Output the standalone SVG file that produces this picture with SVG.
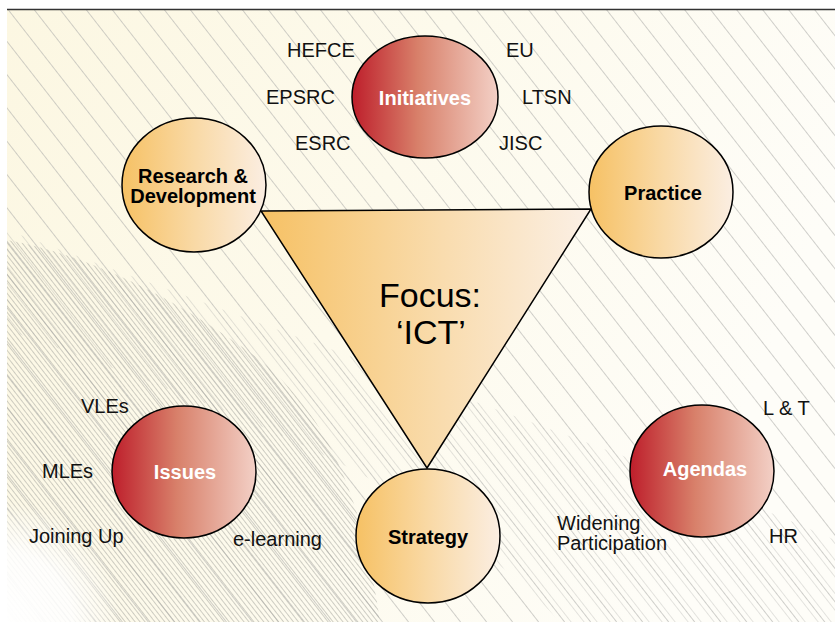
<svg xmlns="http://www.w3.org/2000/svg" width="835" height="622" viewBox="0 0 835 622">
  <defs>
    <style>
      .node { stroke: #000; stroke-width: 1.5; }
      .lbl { font-family: "Liberation Sans", Arial, sans-serif; font-weight: bold; font-size: 20px; text-anchor: middle; }
      .lbl-w { fill: #fff; }
      .lbl-k { fill: #000; }
      .sat { font-family: "Liberation Sans", Arial, sans-serif; font-size: 20px; fill: #111; }
      .focus { font-family: "Liberation Sans", Arial, sans-serif; font-size: 34px; fill: #000; text-anchor: middle; }
    </style>
    <linearGradient id="gOrange" x1="0" y1="0" x2="1" y2="0">
      <stop offset="0" stop-color="#f6c164"/>
      <stop offset="0.5" stop-color="#f9d9a5"/>
      <stop offset="1" stop-color="#fbeee2"/>
    </linearGradient>
    <linearGradient id="gRed" x1="0" y1="0" x2="1" y2="0">
      <stop offset="0" stop-color="#be1e2b"/>
      <stop offset="0.45" stop-color="#d8806a"/>
      <stop offset="1" stop-color="#f3d0c6"/>
    </linearGradient>
    <linearGradient id="gTri" x1="261" y1="0" x2="591" y2="0" gradientUnits="userSpaceOnUse">
      <stop offset="0" stop-color="#f6c164"/>
      <stop offset="0.55" stop-color="#f9dcae"/>
      <stop offset="1" stop-color="#fbf0e6"/>
    </linearGradient>
    <linearGradient id="gBg" x1="0" y1="0" x2="1" y2="0.3">
      <stop offset="0" stop-color="#fcf7e2"/>
      <stop offset="0.5" stop-color="#fdfaec"/>
      <stop offset="1" stop-color="#fefdf8"/>
    </linearGradient>
    <radialGradient id="gCorner" cx="0" cy="622" r="120" gradientUnits="userSpaceOnUse">
      <stop offset="0" stop-color="#ffffff" stop-opacity="1"/>
      <stop offset="0.6" stop-color="#ffffff" stop-opacity="0.85"/>
      <stop offset="1" stop-color="#ffffff" stop-opacity="0"/>
    </radialGradient>
    <pattern id="hatchWide" width="20.5" height="40" patternUnits="userSpaceOnUse" patternTransform="rotate(-38)">
      <line x1="0.5" y1="0" x2="0.5" y2="40" stroke="#b0b0ac" stroke-width="0.6"/>
    </pattern>
    <pattern id="hatchMid" width="10.25" height="40" patternUnits="userSpaceOnUse" patternTransform="rotate(-38) translate(5.1 0)">
      <line x1="0.5" y1="0" x2="0.5" y2="40" stroke="#b0b0ac" stroke-width="0.6"/>
    </pattern>
    <pattern id="hatchDense" width="3.9" height="40" patternUnits="userSpaceOnUse" patternTransform="rotate(-38)">
      <line x1="0.5" y1="0" x2="0.5" y2="40" stroke="#a6a6a0" stroke-width="0.55"/>
    </pattern>
  </defs>

  <!-- background panel with diagonal hatching -->
  <g id="background">
    <rect x="7" y="9" width="828" height="613" fill="url(#gBg)"/>
    <rect x="7" y="9" width="828" height="613" fill="url(#hatchWide)"/>
    <path d="M7 330 C 200 400, 420 470, 560 622 L 835 622 L 835 540 C 700 480, 520 420, 7 230 Z" fill="url(#hatchMid)" opacity="0.6"/>
    <path d="M7 240 C 90 255, 180 300, 260 360 C 320 410, 360 480, 380 622 L 7 622 Z" fill="url(#hatchDense)"/>
    <rect x="7" y="480" width="160" height="142" fill="url(#gCorner)"/>
    <line x1="7" y1="9.5" x2="835" y2="9.5" stroke="#333" stroke-width="1.5"/>
  </g>

  <!-- connector: the central focus triangle joining the three main nodes -->
  <g id="connectors">
    <polygon points="261,211 591,209 427,468" fill="url(#gTri)" stroke="#000" stroke-width="1.5" stroke-linejoin="miter"/>
    <text class="focus" x="430" y="307">Focus:</text>
    <text class="focus" x="431" y="344">‘ICT’</text>
  </g>

  <g id="initiatives">
    <ellipse class="node" cx="425" cy="97" rx="73" ry="61" fill="url(#gRed)"/>
    <text class="lbl lbl-w" x="425" y="105">Initiatives</text>
    <text class="sat" x="287" y="57">HEFCE</text>
    <text class="sat" x="506" y="57">EU</text>
    <text class="sat" x="266" y="104">EPSRC</text>
    <text class="sat" x="522" y="104">LTSN</text>
    <text class="sat" x="295" y="150">ESRC</text>
    <text class="sat" x="499" y="150">JISC</text>
  </g>

  <g id="research-development">
    <ellipse class="node" cx="194" cy="185" rx="72" ry="67" fill="url(#gOrange)"/>
    <text class="lbl lbl-k" x="193" y="183">Research &amp;</text>
    <text class="lbl lbl-k" x="193" y="203">Development</text>
  </g>

  <g id="practice">
    <ellipse class="node" cx="661" cy="192" rx="72" ry="66" fill="url(#gOrange)"/>
    <text class="lbl lbl-k" x="663" y="200">Practice</text>
  </g>

  <g id="strategy">
    <ellipse class="node" cx="428" cy="536" rx="72" ry="67" fill="url(#gOrange)"/>
    <text class="lbl lbl-k" x="428" y="544">Strategy</text>
  </g>

  <g id="issues">
    <ellipse class="node" cx="184" cy="472" rx="72" ry="66" fill="url(#gRed)"/>
    <text class="lbl lbl-w" x="185" y="479">Issues</text>
    <text class="sat" x="81" y="413">VLEs</text>
    <text class="sat" x="42" y="478">MLEs</text>
    <text class="sat" x="29" y="543">Joining Up</text>
    <text class="sat" x="233" y="546">e-learning</text>
  </g>

  <g id="agendas">
    <ellipse class="node" cx="702" cy="471" rx="72" ry="66" fill="url(#gRed)"/>
    <text class="lbl lbl-w" x="705" y="476">Agendas</text>
    <text class="sat" x="763" y="415">L &amp; T</text>
    <text class="sat" x="557" y="530">Widening</text>
    <text class="sat" x="557" y="550">Participation</text>
    <text class="sat" x="769" y="543">HR</text>
  </g>
</svg>
